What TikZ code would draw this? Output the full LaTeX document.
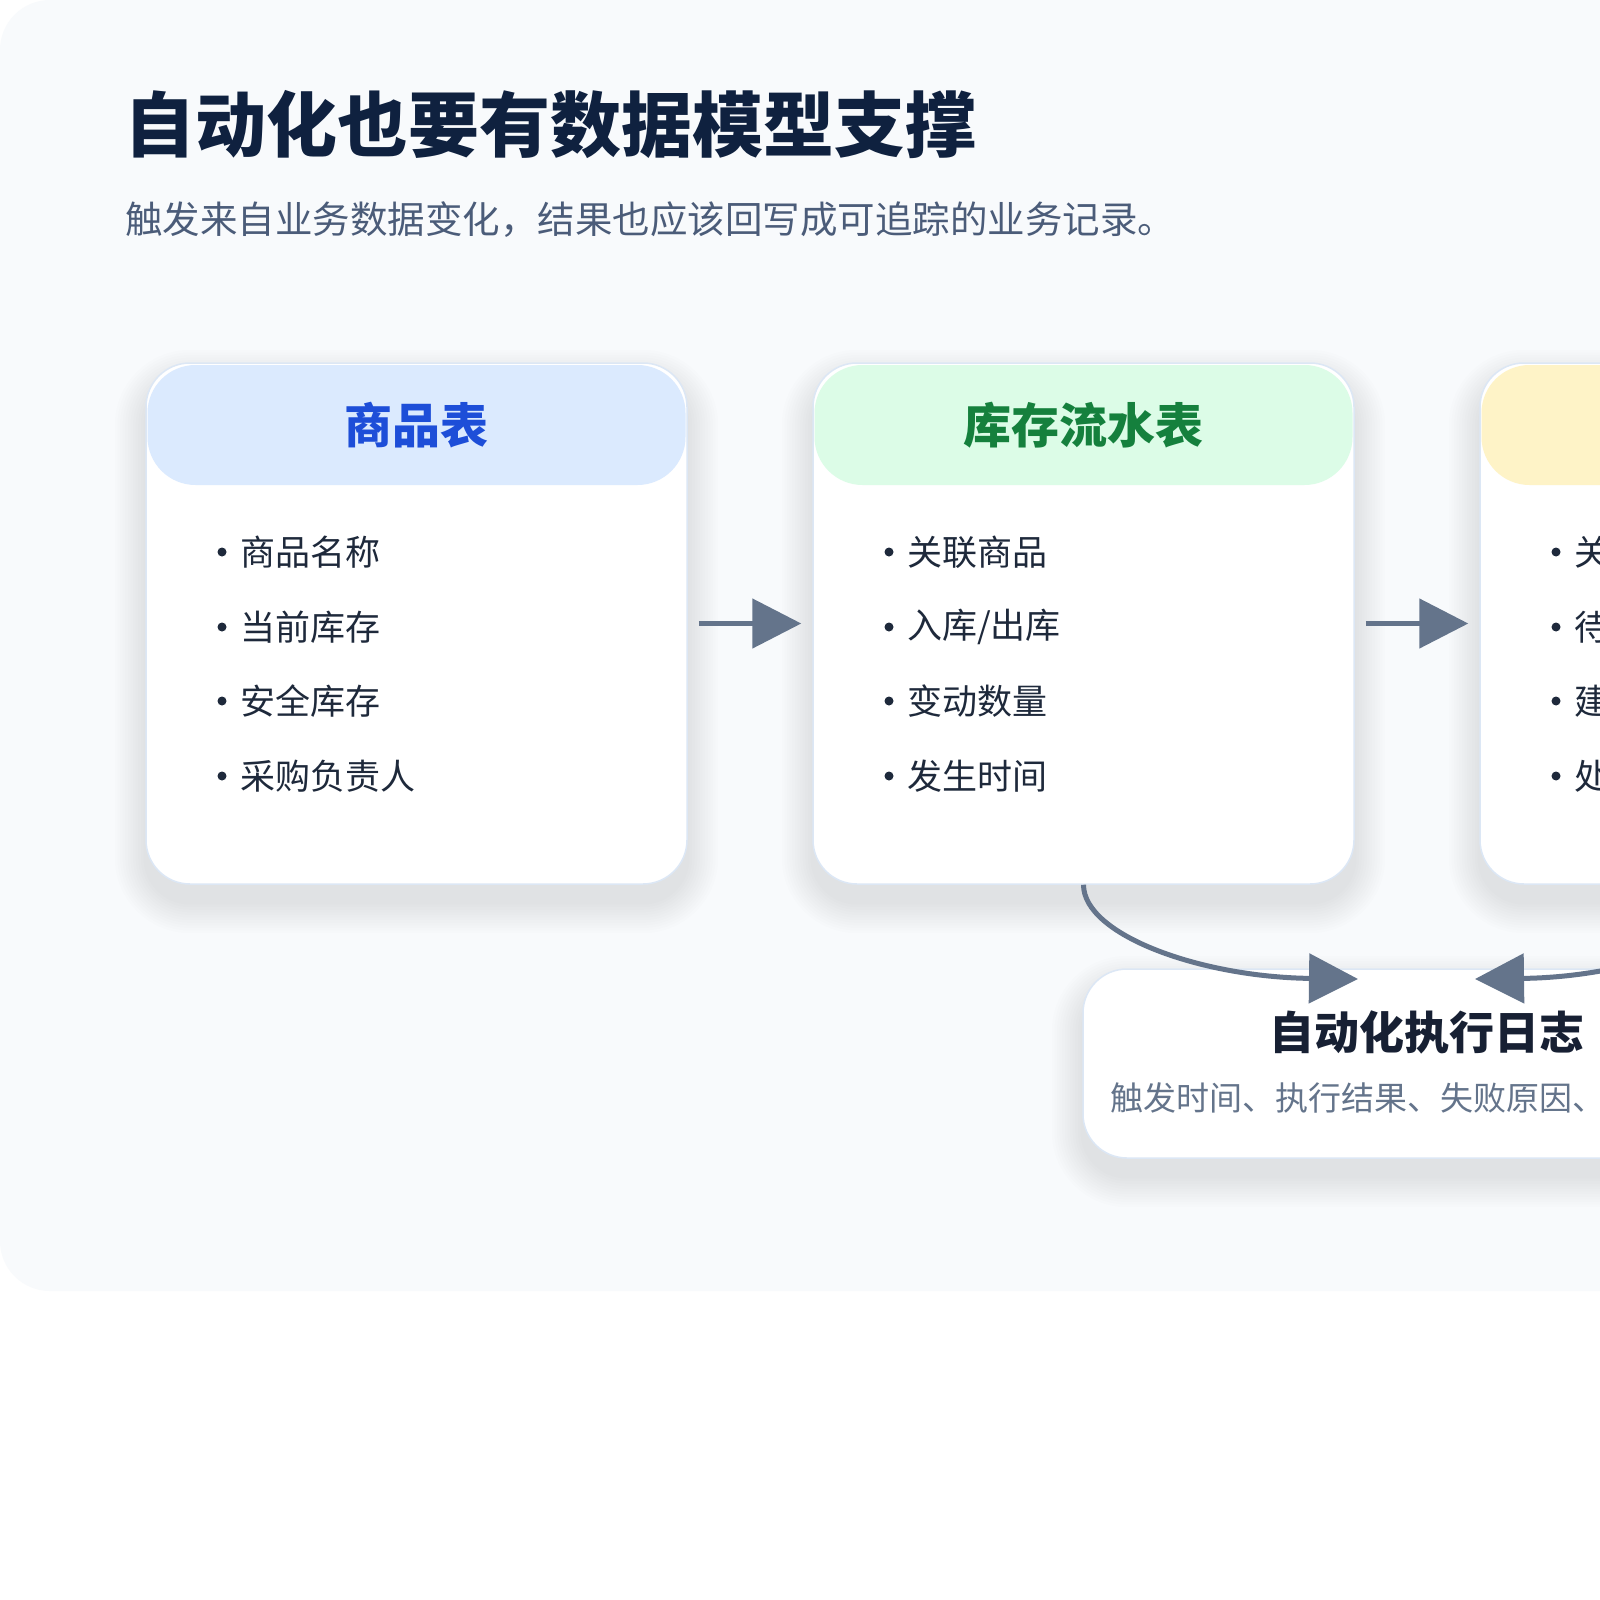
\documentclass[tikz,border=0pt]{standalone}
\usepackage{fontspec}
\setmainfont{Noto Sans CJK SC}
\usetikzlibrary{arrows.meta}
\definecolor{panelbg}{HTML}{F8FAFC}
\definecolor{titlec}{HTML}{0F213F}
\definecolor{subc}{HTML}{4B5C79}
\definecolor{cardline}{HTML}{DCE7F5}
\definecolor{hblue}{HTML}{DBEAFE}
\definecolor{tblue}{HTML}{1D4ED8}
\definecolor{hgreen}{HTML}{DCFCE7}
\definecolor{tgreen}{HTML}{15803D}
\definecolor{hamber}{HTML}{FEF3C7}
\definecolor{itemc}{HTML}{1E293B}
\definecolor{arrowc}{HTML}{64748B}
\definecolor{shadowc}{HTML}{1E2A4A}
\definecolor{logsub}{HTML}{64748B}
\definecolor{logtitle}{HTML}{172033}
\newcommand\dropshade[5]{%
  \foreach \i in {1,...,12}{%
    \pgfmathsetmacro\gr{2.6*\i}%
    \pgfmathsetmacro\rr{#5+\gr}%
    \fill[shadowc, opacity=0.008, rounded corners=\rr pt] ({#1-\gr},{#2-\gr+18}) rectangle ({#3+\gr},{#4+\gr+18});
  }}
\begin{document}
\begin{tikzpicture}[x=1pt, y=-1pt,
  card/.style={draw=cardline, line width=1.5pt, fill=white, rounded corners=44pt, minimum width=541pt, minimum height=521pt, inner sep=0pt},
  head/.style={rounded corners=48pt, minimum width=538pt, minimum height=120pt, inner sep=0pt, font=\fontsize{48}{56}\selectfont\bfseries},
  item/.style={anchor=west, inner sep=0pt, text=itemc, font=\fontsize{35}{42}\selectfont},
  bulletdot/.style={circle, fill=itemc, minimum size=9pt, inner sep=0pt},
  logbox/.style={draw=cardline, line width=1.5pt, fill=white, rounded corners=44pt, minimum width=694pt, minimum height=189pt, inner sep=0pt},
  arr/.style={draw=arrowc, line width=5pt, -{Triangle[length=49pt,width=49pt]}}]
\useasboundingbox (0,0) rectangle (1600,1600);
\clip (0,0) rectangle (1600,1600);
\fill[white] (0,0) rectangle (1600,1600);
\fill[panelbg, rounded corners=50pt] (0,0) rectangle (1700,1291);

% title
\node[anchor=west, inner sep=0pt, text=titlec, font=\fontsize{71}{80}\selectfont\bfseries] (title) at (124,124.5) {自动化也要有数据模型支撑};
\node[anchor=west, inner sep=0pt, text=subc, font=\fontsize{37.5}{44}\selectfont] (subtitle) at (125,219.5) {触发来自业务数据变化，结果也应该回写成可追踪的业务记录。};

% shadows
\dropshade{146}{363}{687}{884}{44}
\dropshade{813}{363}{1354}{884}{44}
\dropshade{1480}{363}{2021}{884}{44}
\dropshade{1083}{969}{1777}{1158}{44}

% cards
\node[card] (c1) at (416.5,623.5) {};
\node[card] (c2) at (1083.5,623.5) {};
\node[card] (c3) at (1750.5,623.5) {};
\node[head, fill=hblue, text=tblue] (h1) at (416.5,425) {商品表};
\node[head, fill=hgreen, text=tgreen] (h2) at (1083.5,425) {库存流水表};
\node[head, fill=hamber] (h3) at (1750.5,425) {};

% items card 1
\node[bulletdot] (b11) at (222,552) {}; \node[item] (t11) at (240,552) {商品名称};
\node[bulletdot] (b12) at (222,627) {}; \node[item] (t12) at (240,627) {当前库存};
\node[bulletdot] (b13) at (222,701) {}; \node[item] (t13) at (240,701) {安全库存};
\node[bulletdot] (b14) at (222,776) {}; \node[item] (t14) at (240,776) {采购负责人};
% items card 2
\node[bulletdot] (b21) at (889,552) {}; \node[item] (t21) at (907,552) {关联商品};
\node[bulletdot] (b22) at (889,627) {}; \node[item] (t22) at (907,627) {入库/出库};
\node[bulletdot] (b23) at (889,701) {}; \node[item] (t23) at (907,701) {变动数量};
\node[bulletdot] (b24) at (889,776) {}; \node[item] (t24) at (907,776) {发生时间};
% items card 3 (cut off by the picture's right edge, as in the reference)
\node[bulletdot] (b31) at (1556,552) {}; \node[item] (t31) at (1574,552) {关};
\node[bulletdot] (b32) at (1556,627) {}; \node[item] (t32) at (1574,627) {待};
\node[bulletdot] (b33) at (1556,701) {}; \node[item] (t33) at (1574,701) {建};
\node[bulletdot] (b34) at (1556,776) {}; \node[item] (t34) at (1574,776) {处};

% log box
\node[logbox] (log) at (1430,1063.5) {};
\node[inner sep=0pt, text=logtitle, font=\fontsize{45}{52}\selectfont\bfseries] (logt) at (1427,1032) {自动化执行日志};
\node[anchor=west, inner sep=0pt, text=logsub, font=\fontsize{33}{40}\selectfont] (logs) at (1110,1098) {触发时间、执行结果、失败原因、};

% arrows
\coordinate (tipA) at (1358,979);
\coordinate (tipB) at (1475,979);
\draw[arr] ([xshift=11pt]c1.east) -- ([xshift=-11pt]c2.west);
\draw[arr] ([xshift=11pt]c2.east) -- ([xshift=-11pt]c3.west);
\draw[arr] (c2.south) .. controls +(0,50) and +(-158,-2) .. (tipA);
\draw[arr] (c3.south) .. controls +(0,50) and +(158,-2) .. (tipB);
\end{tikzpicture}
\end{document}
